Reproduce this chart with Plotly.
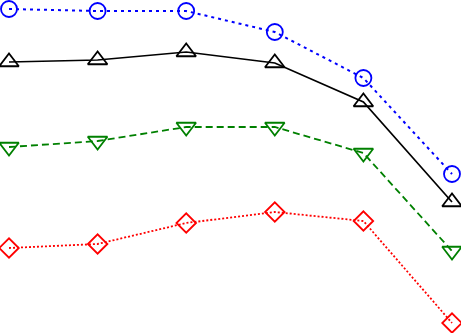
import plotly.graph_objects as go

# Data (x is the point index, y in arbitrary units)
x = [0, 1, 2, 3, 4, 5]
blue = [324, 322, 322, 301, 255, 159]
black = [271, 273, 281, 270, 231, 131]
green = [186, 192, 206, 206, 180, 82]
red = [85, 89, 110, 121, 112, 10]

series = [
    (blue, "blue", "circle-open", "3px,4px", 16, 2),
    (black, "black", "triangle-up-open", "solid", 17, 1.7),
    (green, "green", "triangle-down-open", "7px,4px", 17, 1.8),
    (red, "red", "diamond-open", "2px,2px", 15, 1.8),
]

fig = go.Figure()
for ys, color, symbol, dash, size, width in series:
    fig.add_trace(go.Scatter(
        x=x, y=ys,
        mode="lines+markers",
        line=dict(color=color, width=width, dash=dash),
        marker=dict(symbol=symbol, size=size, color=color,
                    line=dict(color=color, width=1.8)),
        cliponaxis=False,
        showlegend=False,
    ))

fig.update_layout(
    width=461, height=333,
    margin=dict(l=0, r=0, t=0, b=0),
    paper_bgcolor="white",
    plot_bgcolor="white",
    xaxis=dict(range=[-9 / 88.6, 5 + 9 / 88.6], visible=False),
    yaxis=dict(range=[0, 333], visible=False),
)

fig.write_html("out.html", config={"displayModeBar": False},
               post_script="document.body.style.margin='0';")
